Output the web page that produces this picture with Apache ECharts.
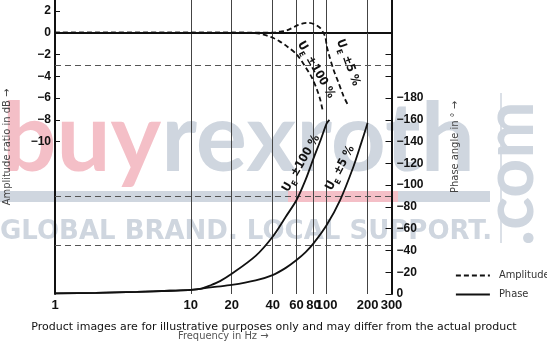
<!DOCTYPE html>
<html><head><meta charset="utf-8">
<script src="https://cdn.jsdelivr.net/npm/echarts@6/dist/echarts.min.js"></script>
<style>html,body{margin:0;padding:0;background:#fff}#c{width:547px;height:341px}</style>
</head><body><div id="c"></div>
<script>
// ---- data ----
const freqTicks = [1, 10, 20, 40, 60, 80, 100, 200, 300];
const gridFreqs = [10, 20, 40, 60, 80, 100, 200];
const dbTicks = [2, 0, -2, -4, -6, -8, -10];
const phaseLabelTicks = [0, -20, -40, -60, -80, -100, -120, -140, -160, -180];
const phaseMarkTicks = [0, -20, -40, -60, -80, -100, -120, -140, -160, -180, -200, -220, -240];
const refDb = [-3];
const refPhase = [-45, -90];

const ampFreq100 = [1, 10, 20, 28, 32, 36, 40.5, 45, 50.9, 60.2, 69.2, 77.9, 84.6, 89.4, 93.6];
const amp100     = [0, 0, 0, -0.02, -0.08, -0.25, -0.49, -0.8, -1.25, -2.0, -3.08, -4.14, -5.2, -6.1, -7.19];
const ampFreq5   = [1, 10, 30, 40, 45, 50.9, 60.2, 67, 73, 80, 89.4, 97.3, 100.2, 104.7, 112.1, 122.2, 133.1, 144.5];
const amp5       = [0, 0, 0, 0, 0.1, 0.21, 0.64, 0.85, 0.9, 0.8, 0.43, -0.34, -1.25, -2.16, -3.38, -4.59, -5.82, -6.73];

const phFreq100 = [1, 2, 4, 7, 10, 12, 14, 16.4, 20, 30, 40, 50, 60, 70, 80, 90, 100, 104.7];
const ph100     = [-0.5, -1, -2, -3, -3.7, -5, -8, -11.8, -18.5, -35, -52.6, -71, -86.3, -105, -124.6, -141, -156.7, -160];
const phFreq5   = [1, 2, 4, 7, 10, 12, 15, 20, 30, 40, 50, 60, 70, 80, 100, 125.6, 157.3, 180, 200];
const ph5       = [-0.5, -1, -2, -3, -3.7, -5, -6.5, -8.3, -12.5, -17.4, -24, -31.2, -38.5, -46.5, -63.4, -86.3, -116.9, -139, -157];

const curveNames = ['±100 %', '±5 %', '±100 %', '±5 %'];
// label anchors in data coordinates (frequency, value) per series
const labelAnchorF = [83.5, 143.8, 64.8, 125.5];
const labelAnchorV = [-3.4, -2.75, -120, -115.7];
const labelAngle   = [-60, -70, 60, 62];

// ---- chart ----
const NARROW = "'Liberation Sans Narrow','DejaVu Sans Condensed','Liberation Sans',sans-serif";
const BOLD = "'Liberation Sans','DejaVu Sans',sans-serif";
const pairs = (xs, ys) => xs.map((x, i) => [x, ys[i]]);
const chart = echarts.init(document.getElementById('c'));

const lineBase = { type: 'line', symbol: 'none', smooth: 0.3, silent: true };

const option = {
  animation: false,
  grid: { left: 55, right: 155.5, top: 0, bottom: 47, outerBoundsMode: 'none', containLabel: false },
  legend: {
    data: ['Amplitude', 'Phase'],
    orient: 'vertical', left: 455, top: 270, padding: 0,
    itemWidth: 34, itemHeight: 12, itemGap: 8, selectedMode: false,
    itemStyle: { opacity: 0 },
    lineStyle: { width: 1.8 },
    textStyle: { color: '#333', fontSize: 11, fontFamily: NARROW, padding: [0, 0, 0, 4] }
  },
  xAxis: {
    type: 'log', logBase: 10, min: 1, max: 300,
    axisLine: { lineStyle: { color: '#111', width: 2 } },
    axisTick: { show: false },
    axisLabel: { customValues: freqTicks, color: '#111', fontWeight: 'bold', fontSize: 13,
      fontFamily: BOLD, margin: 5, formatter: v => String(Math.round(v)) },
    splitLine: { show: false }, minorSplitLine: { show: false },
    name: 'Frequency in Hz →', nameLocation: 'middle', nameGap: 37,
    nameTextStyle: { color: '#555', fontSize: 11, fontFamily: NARROW }
  },
  yAxis: [
    {
      type: 'value', min: -24, max: 3, position: 'left',
      axisLine: { show: true, onZero: false, lineStyle: { color: '#111', width: 2 } },
      axisTick: { show: true, inside: true, length: 5, customValues: dbTicks, lineStyle: { color: '#111', width: 1 } },
      axisLabel: { customValues: dbTicks, color: '#111', fontWeight: 'bold', fontSize: 12,
        fontFamily: BOLD, margin: 4, formatter: v => String(v).replace('-', '−') },
      splitLine: { show: false },
      name: 'Amplitude ratio in dB →', nameLocation: 'middle', nameRotate: 90, nameGap: 42,
      nameTextStyle: { color: '#444', fontSize: 11, fontFamily: NARROW }
    },
    {
      type: 'value', min: -270, max: 0, inverse: true, position: 'right',
      axisLine: { show: true, onZero: false, lineStyle: { color: '#111', width: 2 } },
      axisTick: { show: true, inside: true, length: 6, customValues: phaseMarkTicks, lineStyle: { color: '#111', width: 1 } },
      axisLabel: { customValues: phaseLabelTicks, color: '#111', fontWeight: 'bold', fontSize: 12,
        fontFamily: BOLD, margin: 5, formatter: v => String(v).replace('-', '−') },
      splitLine: { show: false },
      name: 'Phase angle in ° →', nameLocation: 'middle', nameRotate: 90, nameGap: 58,
      nameTextStyle: { color: '#444', fontSize: 11, fontFamily: NARROW }
    }
  ],
  series: [
    Object.assign({}, lineBase, {
      name: 'Amplitude', yAxisIndex: 0, data: pairs(ampFreq100, amp100), z: 5,
      lineStyle: { color: '#111', width: 1.8, type: [5, 3] },
      itemStyle: { color: '#111' },
      markLine: {
        silent: true, symbol: 'none', label: { show: false }, animation: false,
        data: gridFreqs.map(f => ({ xAxis: f, lineStyle: { color: '#444', width: 1, type: 'solid' } }))
          .concat([{ yAxis: 0, lineStyle: { color: '#111', width: 1.2, type: 'solid' } }])
          .concat(refDb.map(v => ({ yAxis: v, lineStyle: { color: '#555', width: 1, type: [6, 4] } })))
      }
    }),
    Object.assign({}, lineBase, {
      name: 'Amplitude', yAxisIndex: 0, data: pairs(ampFreq5, amp5), z: 5,
      lineStyle: { color: '#111', width: 1.8, type: [5, 3] },
      itemStyle: { color: '#111' }
    }),
    Object.assign({}, lineBase, {
      name: 'Phase', yAxisIndex: 1, data: pairs(phFreq100, ph100), z: 5,
      lineStyle: { color: '#111', width: 1.8, type: 'solid' },
      itemStyle: { color: '#111' },
      markLine: {
        silent: true, symbol: 'none', label: { show: false }, animation: false,
        data: refPhase.map(v => ({ yAxis: v, lineStyle: { color: '#555', width: 1, type: [6, 4] } }))
      }
    }),
    Object.assign({}, lineBase, {
      name: 'Phase', yAxisIndex: 1, data: pairs(phFreq5, ph5), z: 5,
      lineStyle: { color: '#111', width: 1.8, type: 'solid' },
      itemStyle: { color: '#111' }
    })
  ]
};
chart.setOption(option);

// ---- annotations and watermark ----
const PINK = '#f4bfc7', GRAY = '#cfd6df';
const graphics = [
  { type: 'text', z: -5, x: 2, y: 188, style: { text: '{p|buy}{g|rexroth}', textVerticalAlign: 'bottom',
      rich: { p: { fill: PINK, font: "bold 96px Lato, 'Open Sans', sans-serif" },
              g: { fill: GRAY, font: "bold 96px Lato, 'Open Sans', sans-serif" } } } },
  { type: 'rect', z: -6, shape: { x: 0, y: 191, width: 490, height: 11 }, style: { fill: GRAY } },
  { type: 'rect', z: -5, shape: { x: 288, y: 191, width: 110, height: 11 }, style: { fill: PINK } },
  { type: 'text', z: -5, x: 0, y: 245, style: { text: 'GLOBAL BRAND. LOCAL SUPPORT.', fill: GRAY,
      font: "bold 26px 'DejaVu Sans', sans-serif", textVerticalAlign: 'bottom' } },
  { type: 'text', z: -5, x: 545, y: 246, rotation: Math.PI / 2, style: { text: '.com', fill: GRAY,
      font: "bold 68px Lato, 'Open Sans', sans-serif", textVerticalAlign: 'bottom' } },
  { type: 'line', z: -5, shape: { x1: 501, y1: 93, x2: 501, y2: 243 }, style: { stroke: GRAY, lineWidth: 1.5 } },
  { type: 'text', z: 100, x: 274, y: 327, style: {
      text: 'Product images are for illustrative purposes only and may differ from the actual product',
      fill: '#111', font: "11px 'DejaVu Sans', sans-serif", textAlign: 'center', textVerticalAlign: 'middle' } }
];
curveNames.forEach((name, i) => {
  const p = chart.convertToPixel({ seriesIndex: i }, [labelAnchorF[i], labelAnchorV[i]]);
  graphics.push({
    type: 'text', z: 50, x: p[0], y: p[1], rotation: labelAngle[i] * Math.PI / 180,
    style: {
      text: '{u|U}{e|E}{t| ' + name + '}', textAlign: 'center', textVerticalAlign: 'middle',
      rich: {
        u: { fill: '#111', font: "bold 12px " + NARROW, lineHeight: 18, verticalAlign: 'middle' },
        e: { fill: '#111', font: "bold 8px " + NARROW, lineHeight: 10, verticalAlign: 'bottom' },
        t: { fill: '#111', font: "bold 12px " + NARROW, lineHeight: 18, verticalAlign: 'middle' }
      }
    }
  });
});
chart.setOption({ graphic: graphics });
</script>
</body></html>
